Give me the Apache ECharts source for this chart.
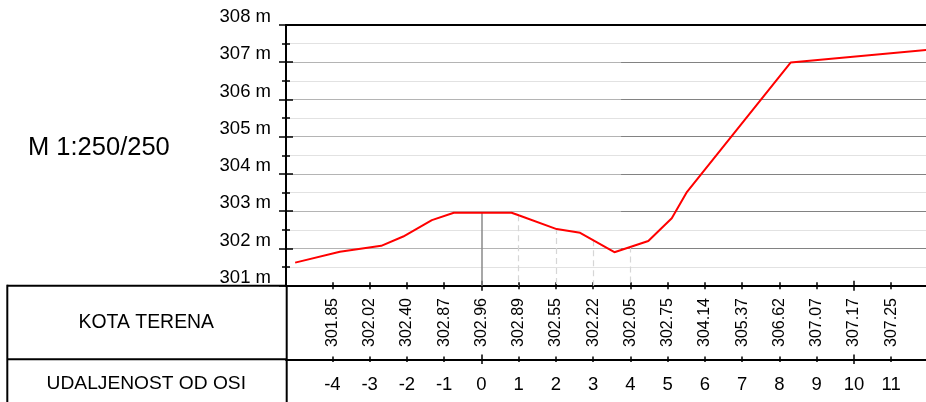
<!DOCTYPE html>
<html>
<head>
<meta charset="utf-8">
<script src="https://cdn.jsdelivr.net/npm/echarts@6/dist/echarts.min.js"></script>
<style>
html,body{margin:0;padding:0;background:#fff;}
#chart{width:926px;height:402px;}
</style>
</head>
<body>
<div id="chart"></div>
<script>
// ---- data ----
const distances = [-4, -3, -2, -1, 0, 1, 2, 3, 4, 5, 6, 7, 8, 9, 10, 11];
const kotaTerena = ['301.85', '302.02', '302.40', '302.87', '302.96', '302.89', '302.55', '302.22',
                    '302.05', '302.75', '304.14', '305.37', '306.62', '307.07', '307.17', '307.25'];
const profileX = [-5.00, -3.80, -2.69, -2.10, -1.33, -0.74, 0.81, 1.00, 2.02, 2.65, 3.57, 4.48, 5.11, 5.52, 8.30, 11.94];
const profileZ = [301.62, 301.91, 302.07, 302.32, 302.76, 302.96, 302.96, 302.89, 302.52, 302.42, 301.90, 302.20, 302.81, 303.52, 306.99, 307.33];
const elevLevels = [302, 303, 304, 305, 306, 307];
const axisDistance = 0;
const dashedDistances = [1, 2, 3, 4];
const majorTickValues = [0, 10];
const darkGridStart = 3.75;
const scaleText = 'M 1:250/250';
const rowTitles = ['KOTA TERENA', 'UDALJENOST OD OSI'];

const FONT = '"Liberation Sans", Arial, sans-serif';
const X_MIN = -5.246, X_MAX = 11.935;
const Y_MIN = 301, Y_MAX = 308;

const chart = echarts.init(document.getElementById('chart'), null, {renderer: 'canvas'});

function valueAt(d) { return parseFloat(kotaTerena[distances.indexOf(d)]); }

const profile = profileX.map((x, i) => [x, profileZ[i]]);

const markData = [];
elevLevels.forEach(z => {
  markData.push([{coord: [darkGridStart, z], lineStyle: {color: '#828282', width: 1.2, type: 'solid'}},
                 {coord: [X_MAX, z]}]);
});
dashedDistances.forEach(d => {
  markData.push([{coord: [d, valueAt(d)], lineStyle: {color: '#d6d6d6', width: 1.2, type: [6, 4]}},
                 {coord: [d, Y_MIN]}]);
});
markData.push([{coord: [axisDistance, valueAt(axisDistance)], lineStyle: {color: '#8a8a8a', width: 1.5, type: 'solid'}},
               {coord: [axisDistance, Y_MIN]}]);

function baseX(extra) {
  return Object.assign({
    type: 'value', min: X_MIN, max: X_MAX, gridIndex: 0, position: 'bottom',
    axisLine: {show: false, onZero: false}, axisTick: {show: false}, axisLabel: {show: false},
    splitLine: {show: false}
  }, extra);
}

const option = {
  animation: false,
  textStyle: {fontFamily: FONT},
  grid: {left: 286, top: 25, width: 640, height: 260.7, containLabel: false},
  xAxis: [
    // main axis line (top of table)
    baseX({axisLine: {show: true, onZero: false, lineStyle: {color: '#000', width: 2}}}),
    // ticks crossing top line
    baseX({offset: -3.5, axisTick: {show: true, length: 7, customValues: distances, lineStyle: {color: '#000', width: 1.5}}}),
    baseX({offset: -5, axisTick: {show: true, length: 10, customValues: majorTickValues, lineStyle: {color: '#000', width: 1.5}}}),
    // KOTA TERENA labels
    baseX({axisLabel: {show: true, customValues: distances, rotate: 90, align: 'center', verticalAlign: 'middle',
            margin: 36.8, fontSize: 16, color: '#000', padding: [4, 0, 0, 0],
            formatter: v => kotaTerena[distances.indexOf(Math.round(v))]}}),
    // middle line
    baseX({offset: 73.6, axisLine: {show: true, onZero: false, lineStyle: {color: '#000', width: 2}}}),
    baseX({offset: 70.9, axisTick: {show: true, length: 5.4, customValues: distances, lineStyle: {color: '#000', width: 1.5}}}),
    baseX({offset: 68.9, axisTick: {show: true, length: 9.4, customValues: majorTickValues, lineStyle: {color: '#000', width: 1.5}}}),
    // distance labels
    baseX({axisLabel: {show: true, customValues: distances, align: 'center', verticalAlign: 'middle',
            margin: 99.5, fontSize: 18.5, color: '#000', formatter: v => String(Math.round(v))}}),
    // top border
    baseX({position: 'top', axisLine: {show: true, onZero: false, lineStyle: {color: '#000', width: 2}}})
  ],
  yAxis: [
    {
      type: 'value', min: Y_MIN, max: Y_MAX, interval: 1, position: 'left',
      axisLine: {show: true, onZero: false, lineStyle: {color: '#000', width: 2}},
      axisTick: {show: true, inside: false, length: 7, lineStyle: {color: '#000', width: 1.5}},
      minorTick: {show: true, splitNumber: 2, length: 4, lineStyle: {color: '#000', width: 1.5}},
      axisLabel: {show: true, margin: 15, fontSize: 18.5, lineHeight: 16, color: '#000', verticalAlign: 'bottom',
                  formatter: v => v + ' m'},
      splitLine: {show: true, lineStyle: {color: '#b4b4b4', width: 1.2}},
      minorSplitLine: {show: true, lineStyle: {color: '#e2e2e2', width: 1.2}}
    },
    {
      type: 'value', min: Y_MIN, max: Y_MAX, interval: 1, position: 'left',
      axisLine: {show: false, onZero: false},
      axisTick: {show: true, inside: true, length: 7, lineStyle: {color: '#000', width: 1.5}},
      minorTick: {show: true, splitNumber: 2, length: 4, lineStyle: {color: '#000', width: 1.5}},
      axisLabel: {show: false},
      splitLine: {show: false}
    }
  ],
  series: [
    {
      type: 'line', xAxisIndex: 0, yAxisIndex: 0, data: [], z: 1, silent: true,
      markLine: {silent: true, symbol: ['none', 'none'], label: {show: false}, animation: false, data: markData}
    },
    {
      type: 'line', xAxisIndex: 0, yAxisIndex: 0, data: profile, z: 5,
      showSymbol: false, symbol: 'none', silent: true, clip: true,
      lineStyle: {color: '#ff0000', width: 2}
    }
  ],
  graphic: [
    {type: 'text', left: 28, top: 135, style: {text: scaleText, font: '25.5px ' + FONT, fill: '#000'}},
    {type: 'text', x: 146.3, y: 323, style: {text: rowTitles[0], font: '19.4px ' + FONT, fill: '#000', align: 'center', verticalAlign: 'middle'}},
    {type: 'text', x: 146.3, y: 384, style: {text: rowTitles[1], font: '19.2px ' + FONT, fill: '#000', align: 'center', verticalAlign: 'middle'}},
    {type: 'line', shape: {x1: 7.3, y1: 285.7, x2: 287, y2: 285.7}, style: {stroke: '#000', lineWidth: 2}},
    {type: 'line', shape: {x1: 7.3, y1: 359.3, x2: 287, y2: 359.3}, style: {stroke: '#000', lineWidth: 2}},
    {type: 'line', shape: {x1: 7.3, y1: 284.7, x2: 7.3, y2: 402}, style: {stroke: '#000', lineWidth: 2}},
    {type: 'line', shape: {x1: 286.7, y1: 285.7, x2: 286.7, y2: 402}, style: {stroke: '#000', lineWidth: 2}}
  ]
};
chart.setOption(option);
</script>
</body>
</html>
